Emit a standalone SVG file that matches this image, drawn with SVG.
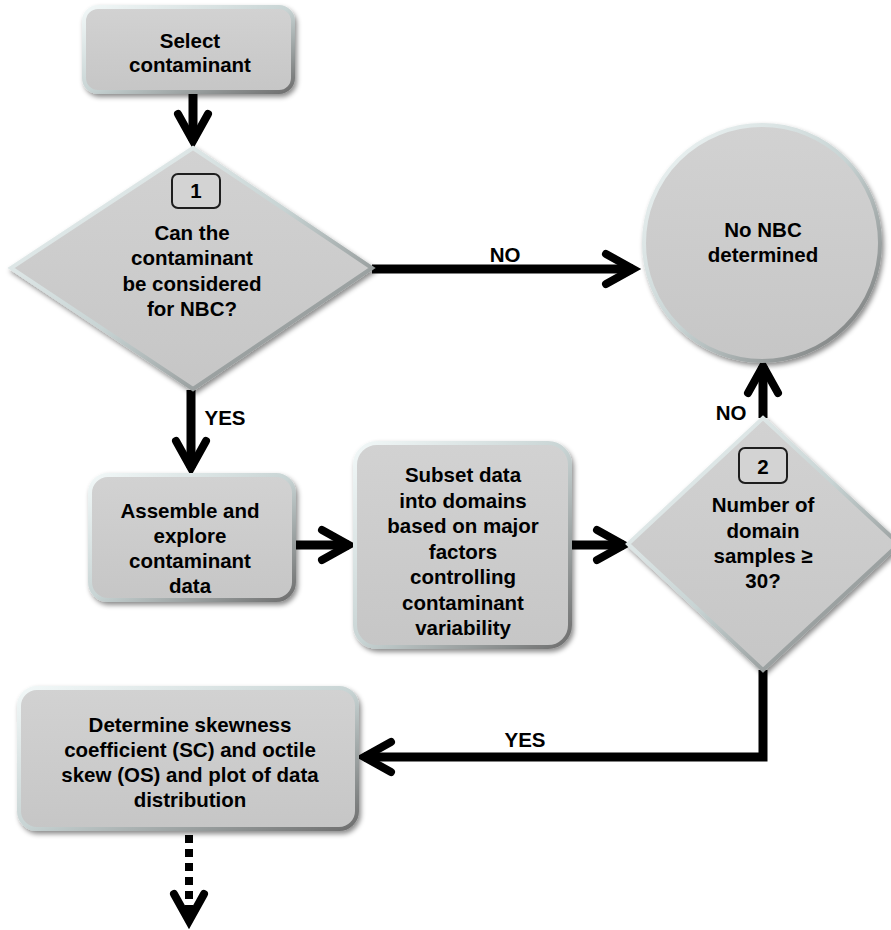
<svg xmlns="http://www.w3.org/2000/svg" width="891" height="930" viewBox="0 0 891 930">
<style>
.node{fill:url(#fillg);stroke:url(#bevel);stroke-width:4;filter:url(#shadow)}
.num{fill:#d3d3d3;stroke:#1e1e1e;stroke-width:2}
.t{font-family:"Liberation Sans",Arial,sans-serif;font-weight:bold;font-size:20.5px;fill:#000;text-anchor:middle}
.c{fill:none;stroke:#000;stroke-width:9}
.dash{fill:none;stroke:#000;stroke-width:8;stroke-dasharray:8 6}
</style>
<defs>
<linearGradient id="fillg" x1="0" y1="0" x2="0" y2="1">
<stop offset="0" stop-color="#d2d2d2"/>
<stop offset="1" stop-color="#c6c6c6"/>
</linearGradient>
<linearGradient id="bevel" x1="0" y1="0" x2="1" y2="1">
<stop offset="0" stop-color="#f2f8f8"/>
<stop offset="0.5" stop-color="#c8d4d4"/>
<stop offset="1" stop-color="#6e6e6e"/>
</linearGradient>
<filter id="shadow" x="-10%" y="-10%" width="130%" height="130%">
<feDropShadow dx="2" dy="3" stdDeviation="2.5" flood-color="#000" flood-opacity="0.45"/>
</filter>
<marker id="chev" viewBox="-36 -22 42 44" refX="0" refY="0" markerWidth="42" markerHeight="44" markerUnits="userSpaceOnUse" orient="auto" overflow="visible">
<path d="M-27 -15 L0 0 L-27 15" fill="none" stroke="#000" stroke-width="8" stroke-linecap="round" stroke-linejoin="miter"/>
</marker>
</defs>
<rect width="891" height="930" fill="#fff"/>

<g id="connectors">
<line class="c" x1="193" y1="92" x2="193" y2="141" marker-end="url(#chev)"/>
<line class="c" x1="372" y1="269" x2="633" y2="269" marker-end="url(#chev)"/>
<line class="c" x1="191" y1="390" x2="191" y2="468" marker-end="url(#chev)"/>
<line class="c" x1="296" y1="545" x2="349" y2="545" marker-end="url(#chev)"/>
<line class="c" x1="572" y1="545" x2="624" y2="545" marker-end="url(#chev)"/>
<line class="c" x1="763" y1="418" x2="763" y2="366" marker-end="url(#chev)"/>
<polyline class="c" points="763,670 763,757 364,757" marker-end="url(#chev)"/>
<line class="dash" x1="189" y1="835" x2="189" y2="921" marker-end="url(#chev)"/>
<text class="t" x="505" y="262">NO</text>
<text class="t" x="225" y="425">YES</text>
<text class="t" x="731" y="420">NO</text>
<text class="t" x="525" y="747">YES</text>
</g>

<g id="select">
<rect class="node" x="84" y="7" width="209" height="85" rx="14"/>
<text class="t" x="190" y="48">Select</text>
<text class="t" x="190" y="72">contaminant</text>
</g>

<g id="decision1">
<polygon class="node" points="193,148 372,268 193,389 11,268"/>
<rect class="num" x="172" y="174" width="48" height="34" rx="6"/>
<text class="t" x="196" y="198">1</text>
<text class="t" x="192" y="240">Can the</text>
<text class="t" x="192" y="265">contaminant</text>
<text class="t" x="192" y="291">be considered</text>
<text class="t" x="192" y="316">for NBC?</text>
</g>

<g id="nonbc">
<circle class="node" cx="762" cy="243" r="118"/>
<text class="t" x="763" y="237">No NBC</text>
<text class="t" x="763" y="262">determined</text>
</g>

<g id="assemble">
<rect class="node" x="90" y="475" width="204" height="125" rx="18"/>
<text class="t" x="190" y="518">Assemble and</text>
<text class="t" x="190" y="543">explore</text>
<text class="t" x="190" y="568">contaminant</text>
<text class="t" x="190" y="593">data</text>
</g>

<g id="subset">
<rect class="node" x="355" y="443" width="215" height="204" rx="22"/>
<text class="t" x="463" y="482">Subset data</text>
<text class="t" x="463" y="507.5">into domains</text>
<text class="t" x="463" y="533">based on major</text>
<text class="t" x="463" y="558.5">factors</text>
<text class="t" x="463" y="584">controlling</text>
<text class="t" x="463" y="609.5">contaminant</text>
<text class="t" x="463" y="635">variability</text>
</g>

<g id="decision2">
<polygon class="node" points="763,418 899,544 763,670 628,544"/>
<rect class="num" x="739" y="448" width="48" height="35" rx="6"/>
<text class="t" x="763" y="474">2</text>
<text class="t" x="763" y="512">Number of</text>
<text class="t" x="763" y="538">domain</text>
<text class="t" x="763" y="563">samples ≥</text>
<text class="t" x="763" y="588">30?</text>
</g>

<g id="skewness">
<rect class="node" x="19" y="688" width="338" height="141" rx="18"/>
<text class="t" x="190" y="732">Determine skewness</text>
<text class="t" x="190" y="757">coefficient (SC) and octile</text>
<text class="t" x="190" y="782">skew (OS) and plot of data</text>
<text class="t" x="190" y="807">distribution</text>
</g>
</svg>
